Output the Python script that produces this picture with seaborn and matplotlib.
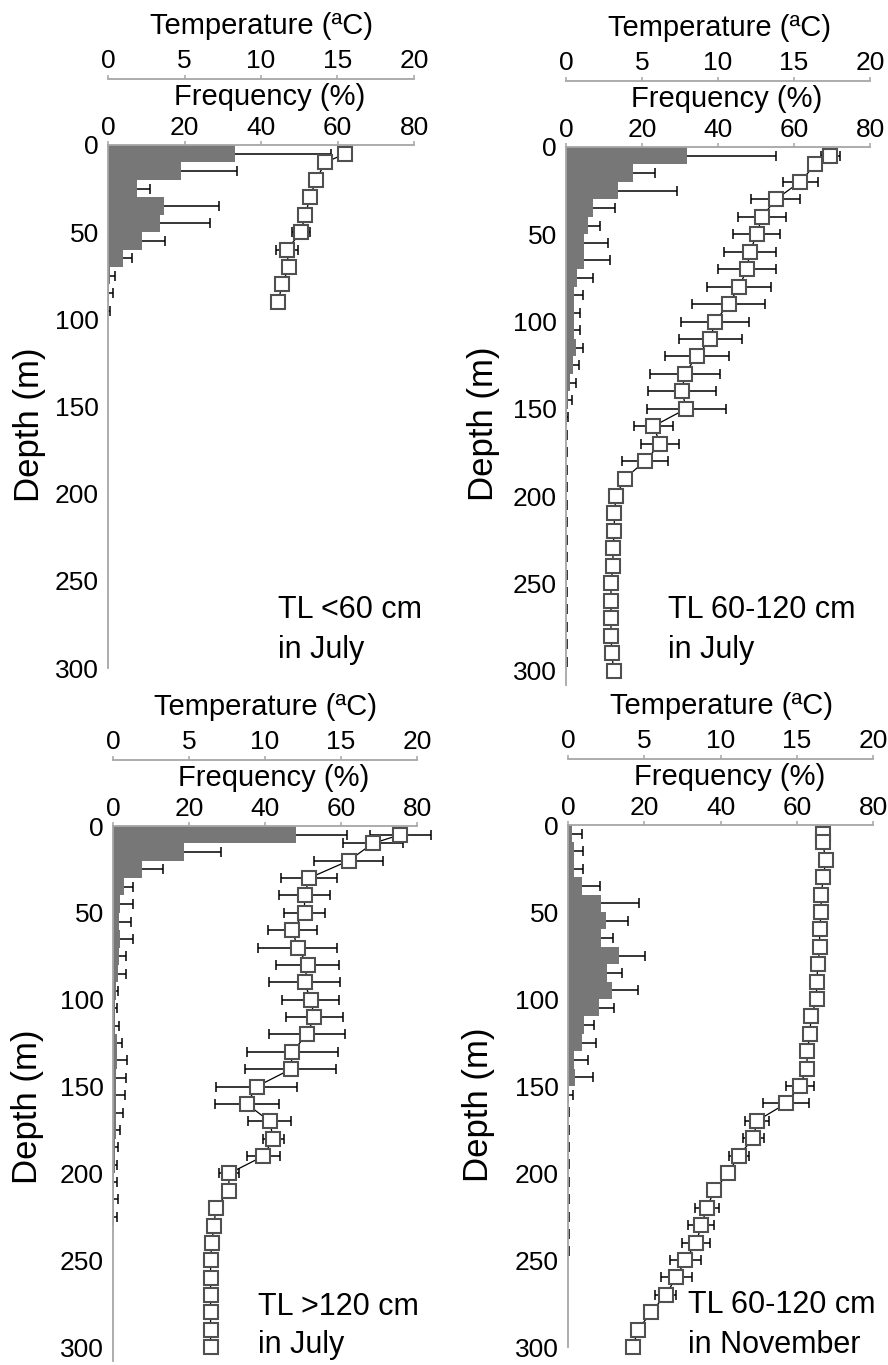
import numpy as np
import matplotlib
matplotlib.use("Agg")
import matplotlib.pyplot as plt
from matplotlib.transforms import offset_copy
import seaborn as sns

# ---------------- data ----------------
# Panel A: TL <60 cm in July
bins_a = [5, 15, 25, 35, 45, 55, 65, 75, 85, 95]
freq_a = [33.2, 19.0, 7.6, 14.6, 13.7, 8.9, 3.9, 0.4, 0.3, 0.1]
ferr_a = [25.1, 14.6, 3.5, 14.5, 12.9, 6.1, 2.4, 1.3, 1.0, 0.3]
tdep_a = [5, 10, 20, 30, 40, 50, 60, 70, 80, 90]
temp_a = [15.5, 14.2, 13.6, 13.2, 12.9, 12.6, 11.7, 11.8, 11.4, 11.1]
terr_a = [0.2, 0.2, 0.2, 0.2, 0.2, 0.6, 0.7, 0.2, 0.2, 0.2]

# Panel B: TL 60-120 cm in July
bins_b = list(range(5, 300, 10))
freq_b = [31.8, 17.6, 13.7, 7.0, 5.8, 4.8, 4.8, 2.9, 2.2, 2.0, 2.0, 2.5, 1.8, 1.0, 0.5,
          0.3, 0.1, 0.1, 0.1, 0.1, 0.1, 0.1, 0.1, 0.1, 0.1, 0.1, 0.1, 0.1, 0.1, 0.1]
ferr_b = [23.5, 5.7, 15.5, 5.8, 3.1, 6.2, 6.9, 4.2, 2.3, 1.8, 1.8, 2.0, 1.5, 1.5, 1.2,
          0.2, 0.15, 0.15, 0.15, 0.15, 0.15, 0.15, 0.15, 0.15, 0.15, 0.15, 0.15, 0.15, 0.15, 0.15]
tdep_b = [5, 10] + list(range(20, 301, 10))
temp_b = [17.4, 16.4, 15.4, 13.8, 12.9, 12.55, 12.1, 11.9, 11.4, 10.7, 9.8, 9.5, 8.6, 7.8,
          7.65, 7.9, 5.75, 6.2, 5.2, 3.86, 3.29, 3.18, 3.18, 3.09, 3.09, 2.96, 2.96, 2.96,
          2.96, 3.02, 3.13]
terr_b = [0.6, 0.3, 1.15, 1.6, 1.6, 1.55, 1.7, 1.9, 2.1, 2.4, 2.25, 2.05, 2.1, 2.3, 2.25,
          2.6, 1.3, 1.25, 1.5] + [0.2] * 12

# Panel C: TL >120 cm in July
bins_c = list(range(5, 230, 10))
freq_c = [48.2, 18.7, 7.7, 2.9, 1.9, 1.5, 1.9, 1.5, 1.3, 0.7, 0.5, 0.5, 1.0, 1.0, 0.8,
          0.8, 0.8, 0.7, 0.5, 0.5, 0.3, 0.3, 0.3]
ferr_c = [13.3, 9.6, 5.5, 2.4, 3.4, 3.2, 3.4, 1.8, 2.0, 0.6, 0.6, 1.0, 1.3, 2.6, 2.6,
          2.4, 1.7, 1.1, 0.9, 0.6, 0.7, 1.1, 0.8]
tdep_c = [5, 10] + list(range(20, 301, 10))
temp_c = [18.9, 17.1, 15.5, 12.9, 12.6, 12.6, 11.8, 12.15, 12.8, 12.6, 13.0, 13.25, 12.75,
          11.8, 11.7, 9.45, 8.8, 10.3, 10.55, 9.9, 7.65, 7.6, 6.77, 6.64, 6.5, 6.42, 6.42,
          6.42, 6.42, 6.42, 6.42]
terr_c = [2.0, 2.0, 2.25, 1.85, 1.7, 1.35, 1.6, 2.6, 2.05, 2.35, 1.9, 1.9, 2.5,
          3.0, 3.0, 2.65, 2.1, 1.4, 0.7, 1.1, 0.65] + [0.2] * 10

# Panel D: TL 60-120 cm in November
bins_d = list(range(5, 250, 10))
freq_d = [1.1, 1.5, 1.5, 3.8, 8.6, 9.9, 8.6, 13.4, 10.3, 11.6, 8.1, 4.1, 3.8, 1.7, 1.8,
          0.3, 0.1, 0.1, 0.1, 0.1, 0.1, 0.1, 0.1, 0.1, 0.1]
ferr_d = [2.7, 2.4, 2.4, 4.5, 9.9, 5.8, 3.2, 6.9, 3.9, 6.8, 4.0, 2.7, 3.5, 3.6, 4.8,
          1.1, 0.25, 0.2, 0.2, 0.2, 0.2, 0.2, 0.2, 0.2, 0.2]
tdep_d = [5, 10] + list(range(20, 301, 10))
temp_d = [16.7, 16.7, 16.9, 16.75, 16.6, 16.6, 16.5, 16.5, 16.4, 16.3, 16.3, 15.95, 15.85,
          15.7, 15.65, 15.2, 14.3, 12.4, 12.15, 11.2, 10.5, 9.6, 9.1, 8.75, 8.4, 7.7, 7.1,
          6.4, 5.45, 4.6, 4.25]
terr_d = [0.15] * 14 + [0.2, 0.9, 1.5, 0.8, 0.7, 0.65, 0.3, 0.3, 0.8, 0.85, 0.9, 1.0, 1.0,
                        0.7, 0.2, 0.15, 0.15]

labels_a = ["TL <60 cm", "in July"]
labels_b = ["TL 60-120 cm", "in July"]
labels_c = ["TL >120 cm", "in July"]
labels_d = ["TL 60-120 cm", "in November"]

freq_ticks = [0, 20, 40, 60, 80]
temp_ticks = [0, 5, 10, 15, 20]
depth_ticks = [0, 50, 100, 150, 200, 250, 300]

# ---------------- style ----------------
sns.set_style("white")
plt.rcParams["font.family"] = ["Liberation Sans", "DejaVu Sans"]
plt.rcParams["text.color"] = "black"
plt.rcParams["axes.labelcolor"] = "black"
plt.rcParams["xtick.labelcolor"] = "black"
plt.rcParams["ytick.labelcolor"] = "black"

W, H = 888, 1365
fig = plt.figure(figsize=(W / 100, H / 100), dpi=100)

SPINE = "#a6a6a6"
BAR = "#777777"


def px_rect(x0, x1, ytop, ybot):
    return [x0 / W, 1 - ybot / H, (x1 - x0) / W, (ybot - ytop) / H]


panels = [
    dict(rect=px_rect(108, 414, 145, 668), ymax=300, bins=bins_a, freq=freq_a, ferr=ferr_a,
         tdep=tdep_a, temp=temp_a, terr=terr_a, lab=labels_a,
         labpos=((278, 618), (278, 658)), ylab=(-0.255, 0.465)),
    dict(rect=px_rect(566, 870, 147, 684.5), ymax=308, bins=bins_b, freq=freq_b, ferr=ferr_b,
         tdep=tdep_b, temp=temp_b, terr=terr_b, lab=labels_b,
         labpos=((668, 618), (668, 658)), ylab=(-0.273, 0.485)),
    dict(rect=px_rect(113, 417, 826, 1361), ymax=308, bins=bins_c, freq=freq_c, ferr=ferr_c,
         tdep=tdep_c, temp=temp_c, terr=terr_c, lab=labels_c,
         labpos=((258, 1315), (258, 1353)), ylab=(-0.28, 0.475)),
    dict(rect=px_rect(568, 873, 825, 1347), ymax=300, bins=bins_d, freq=freq_d, ferr=ferr_d,
         tdep=tdep_d, temp=temp_d, terr=terr_d, lab=labels_d,
         labpos=((688, 1313), (688, 1353)), ylab=(-0.292, 0.464)),
]

for p in panels:
    ax = fig.add_axes(p["rect"])
    ax2 = ax.twiny()

    freq = np.asarray(p["freq"], float)
    bins = np.asarray(p["bins"], float)
    ferr = np.asarray(p["ferr"], float)

    sns.barplot(x=freq, y=bins, orient="h", native_scale=True, width=1.0, color=BAR,
                saturation=1, linewidth=0, errorbar=None, ax=ax)
    _, caps, _ = ax.errorbar(freq, bins, xerr=[np.zeros_like(freq), ferr], fmt="none",
                             ecolor="black", elinewidth=1.1, capsize=3.5, capthick=1.1)
    for cl in caps:
        if np.allclose(cl.get_xdata(), freq):
            cl.set_visible(False)

    eb = ax2.errorbar(p["temp"], p["tdep"], xerr=p["terr"], fmt="none", ecolor="black",
                      elinewidth=1.1, capsize=3.5, capthick=1.1, zorder=2)
    for art in list(eb[1]) + list(eb[2]):
        art.set_clip_on(False)
    sns.lineplot(x=p["temp"], y=p["tdep"], sort=False, estimator=None, ax=ax2,
                 color="black", linewidth=0.9, marker="s", markersize=10,
                 markerfacecolor="white", markeredgecolor="#505050",
                 markeredgewidth=1.5, zorder=3, clip_on=False)

    # frequency axis (main)
    for s in ax.spines.values():
        s.set_visible(False)
    for s in ("top", "left"):
        ax.spines[s].set_visible(True)
        ax.spines[s].set_color(SPINE)
        ax.spines[s].set_linewidth(1.3)
    ax.xaxis.set_ticks_position("top")
    ax.xaxis.set_label_position("top")
    ax.set_xlim(0, 80)
    ax.set_xticks(freq_ticks)
    ax.set_xlabel("Frequency (%)", fontsize=21)
    ax.xaxis.set_label_coords(0.5, 1.0, transform=offset_copy(
        ax.transAxes, fig=fig, x=9, y=40, units="dots"))
    ax.xaxis.label.set_va("baseline")
    ax.set_ylim(p["ymax"], 0)
    ax.set_yticks(depth_ticks)
    ax.set_ylabel("Depth (m)", fontsize=25)
    ax.yaxis.set_label_coords(*p["ylab"])
    ax.yaxis.label.set_va("center")
    ax.tick_params(axis="x", direction="out", length=2.9, width=1.1, color=SPINE,
                   labelsize=19, pad=0.4, labelcolor="black")
    ax.tick_params(axis="y", direction="out", length=3.5, width=1.1, color=SPINE,
                   labelsize=19, pad=3, labelcolor="black")
    ax.grid(False)

    # temperature axis (twin)
    for s in ax2.spines.values():
        s.set_visible(False)
    ax2.spines["top"].set_visible(True)
    ax2.spines["top"].set_position(("outward", 47.5))
    ax2.spines["top"].set_color(SPINE)
    ax2.spines["top"].set_linewidth(1.3)
    ax2.set_xlim(0, 20)
    ax2.set_xticks(temp_ticks)
    ax2.set_xlabel("Temperature (\u00aaC)", fontsize=21)
    ax2.xaxis.set_label_coords(0.5, 1.0, transform=offset_copy(
        ax2.transAxes, fig=fig, x=1, y=111, units="dots"))
    ax2.xaxis.label.set_va("baseline")
    ax2.tick_params(axis="x", direction="out", length=2.9, width=1.1, color=SPINE,
                    labelsize=19, pad=1.7, labelcolor="black")
    ax2.set_ylabel("")
    ax2.grid(False)
    ax.set_ylim(p["ymax"], 0)

    for txt, (x, y) in zip(p["lab"], p["labpos"]):
        fig.text(x / W, 1 - y / H, txt, fontsize=22, ha="left", va="baseline",
                 color="black")

fig.savefig("out.png", dpi=100)
